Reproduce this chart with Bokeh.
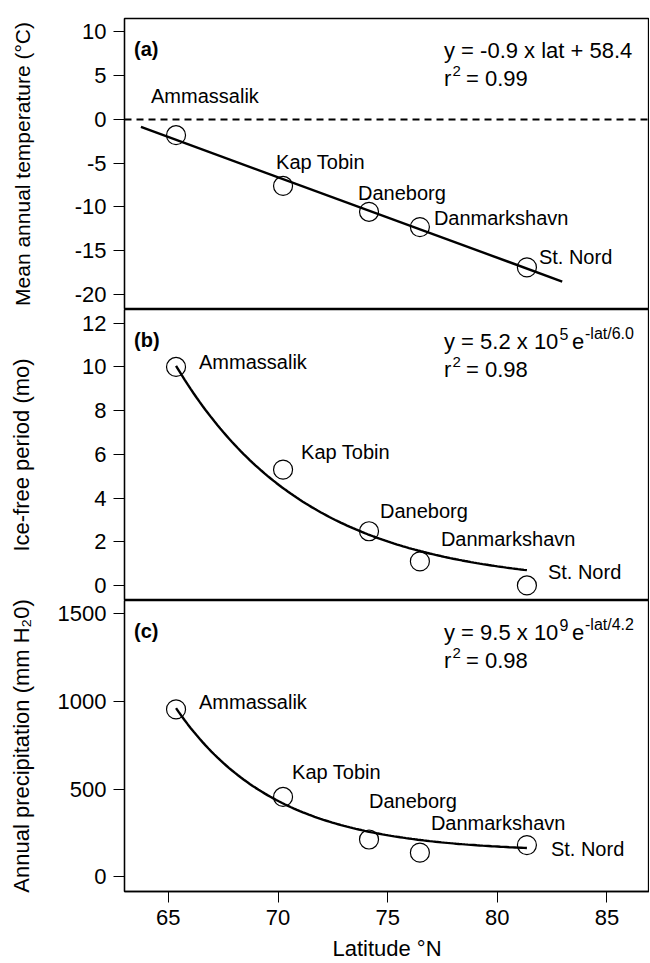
import numpy as np
from bokeh.plotting import figure
from bokeh.models import ColumnDataSource, Label, LabelSet, Span, FixedTicker
from bokeh.core.properties import value
from bokeh.layouts import column
from bokeh.embed import file_html
from bokeh.resources import INLINE

# ---------------- data ----------------
stations = ["Ammassalik", "Kap Tobin", "Daneborg", "Danmarkshavn", "St. Nord"]
latitude = [65.35, 70.23, 74.15, 76.47, 81.35]
mean_temp = [-1.8, -7.6, -10.55, -12.3, -16.9]
ice_free = [10.0, 5.3, 2.48, 1.1, 0.0]
precip = [955, 455, 212, 137, 180]

x_ticks = [65, 70, 75, 80, 85]
temp_ticks = [-20, -15, -10, -5, 0, 5, 10]
ice_ticks = [0, 2, 4, 6, 8, 10, 12]
precip_ticks = [0, 500, 1000, 1500]

# fitted curves (parameters)
temp_fit_span = [63.75, 82.96]
ice_fit_amp = 5.4e5
ice_fit_scale = 6.0
precip_fit_offset = 140.0
precip_fit_amp = 822.0
precip_fit_scale = 4.5

# label offsets (pixels: dx to left edge of text, dy to text middle, screen-down)
lab_dx_a = [-25, -7, -11, 14, 12]
lab_dy_a = [-39, -24, -19, -9, -10]
lab_dx_b = [23, 18, 11, 21, 21]
lab_dy_b = [-5, -18, -20, -22, -13]
lab_dx_c = [23, 9, 0, 11, 24]
lab_dy_c = [-7, -25, -38, -30, 4]

FONT = "Liberation Sans"
X0, X1 = 63.0, 86.94
EQ = 22      # equation font size
SUP = 16     # superscript size
SUP2 = 15    # r^2 superscript size


def make_panel(y0, y1, yticks, top, bottom, show_x, ylabel, ylabel_standoff, ylabel_size):
    p = figure(frame_width=525, frame_height=291, x_range=(X0, X1), y_range=(y0, y1),
               output_backend="svg", toolbar_location=None,
               x_axis_location="below" if show_x else None,
               min_border_left=124, min_border_right=0,
               min_border_top=top, min_border_bottom=bottom)
    p.grid.visible = False
    p.outline_line_color = "black"
    p.outline_line_width = 1.3
    p.outline_line_alpha = 1.0
    p.background_fill_color = "white"
    p.border_fill_color = "white"
    ya = p.yaxis[0]
    ya.ticker = FixedTicker(ticks=yticks)
    ya.major_label_overrides = {t: str(t) for t in yticks}
    ya.major_tick_out = 11
    ya.major_tick_in = 0
    ya.minor_tick_out = 0
    ya.minor_tick_in = 0
    ya.major_tick_line_color = "black"
    ya.axis_line_color = "black"
    ya.axis_line_width = 1.3
    ya.major_label_text_font = FONT
    ya.major_label_text_font_size = "22px"
    ya.major_label_text_color = "black"
    ya.major_label_standoff = 7
    ya.axis_label = ylabel
    ya.axis_label_text_font = FONT
    ya.axis_label_text_font_size = ylabel_size
    ya.axis_label_text_font_style = "normal"
    ya.axis_label_text_color = "black"
    ya.axis_label_standoff = ylabel_standoff
    if show_x:
        xa = p.xaxis[0]
        xa.ticker = FixedTicker(ticks=x_ticks)
        xa.major_tick_out = 11
        xa.major_tick_in = 0
        xa.minor_tick_out = 0
        xa.minor_tick_in = 0
        xa.major_tick_line_color = "black"
        xa.axis_line_color = "black"
        xa.axis_line_width = 1.3
        xa.major_label_text_font = FONT
        xa.major_label_text_font_size = "22px"
        xa.major_label_text_color = "black"
        xa.major_label_standoff = 7
        xa.axis_label = "Latitude °N"
        xa.axis_label_text_font = FONT
        xa.axis_label_text_font_size = "22px"
        xa.axis_label_text_font_style = "normal"
        xa.axis_label_text_color = "black"
        xa.axis_label_standoff = 8
    return p


def add_text(p, dx, dy, text, size, bold=False, y_top=None):
    p.add_layout(Label(x=X0, y=y_top, x_offset=dx, y_offset=-dy, text=text,
                       text_font=FONT, text_font_size=f"{size}px",
                       text_font_style="bold" if bold else "normal",
                       text_color="black", text_align="left",
                       text_baseline="alphabetic"))


def add_points(p, vals, dxs, dys):
    src = ColumnDataSource(dict(x=latitude, y=vals, name=stations,
                                dx=dxs, dy=[-d for d in dys]))
    p.scatter("x", "y", source=src, marker="circle", size=19, fill_color=None,
              line_color="black", line_width=1.2)
    p.add_layout(LabelSet(x="x", y="y", text="name", source=src, x_offset="dx",
                          y_offset="dy", text_font=value(FONT),
                          text_font_size=value("20px"),
                          text_color="black", text_align="left",
                          text_baseline="middle"))


def add_r2(p, y_top, txt):
    add_text(p, 319.5, 60, "r", EQ, y_top=y_top)
    add_text(p, 328, 52, "2", SUP2, y_top=y_top)
    add_text(p, 341.5, 60, txt, EQ, y_top=y_top)


def add_exp_eq(p, y_top, main, power, expo):
    add_text(p, 319.5, 32, main, EQ, y_top=y_top)
    add_text(p, 435, 24, power, SUP, y_top=y_top)
    add_text(p, 447.5, 32, "e", EQ, y_top=y_top)
    add_text(p, 460.5, 24, expo, SUP, y_top=y_top)


# ---------------- panel (a) ----------------
A0, A1 = -21.71, 11.53
pa = make_panel(A0, A1, temp_ticks, 18, 0, False, "Mean annual temperature (°C)", 38, "21px")
pa.add_layout(Span(location=0, dimension="width", line_color="black",
                   line_width=2, line_dash="7 5"))
slope, intercept = np.polyfit(latitude, mean_temp, 1)
xf = np.array(temp_fit_span)
pa.line(xf, slope * xf + intercept, line_color="black", line_width=2.4)
add_points(pa, mean_temp, lab_dx_a, lab_dy_a)
add_text(pa, 9.5, 30, "(a)", 20, bold=True, y_top=A1)
add_text(pa, 319.5, 32, "y = -0.9 x lat + 58.4", EQ, y_top=A1)
add_r2(pa, A1, "= 0.99")

# ---------------- panel (b) ----------------
B0, B1 = -0.69, 12.63
pb = make_panel(B0, B1, ice_ticks, 0, 0, False, "Ice-free period (mo)", 45, "22px")
xb = np.linspace(latitude[0], latitude[-1], 120)
pb.line(xb, ice_fit_amp * np.exp(-xb / ice_fit_scale), line_color="black", line_width=2.4)
add_points(pb, ice_free, lab_dx_b, lab_dy_b)
add_text(pb, 9.5, 30, "(b)", 20, bold=True, y_top=B1)
add_exp_eq(pb, B1, "y = 5.2 x 10", "5", "-lat/6.0")
add_r2(pb, B1, "= 0.98")

# ---------------- panel (c) ----------------
C0, C1 = -85.0, 1577.0
pc = make_panel(C0, C1, precip_ticks, 0, 72, True, "Annual precipitation (mm H₂0)", 21, "22px")
xc = np.linspace(latitude[0], latitude[-1], 120)
pc.line(xc, precip_fit_offset + precip_fit_amp * np.exp(-(xc - latitude[0]) / precip_fit_scale),
        line_color="black", line_width=2.4)
add_points(pc, precip, lab_dx_c, lab_dy_c)
add_text(pc, 9.5, 30, "(c)", 20, bold=True, y_top=C1)
add_exp_eq(pc, C1, "y = 9.5 x 10", "9", "-lat/4.2")
add_r2(pc, C1, "= 0.98")

layout = column(pa, pb, pc, spacing=0)
open("out.html", "w").write(file_html(layout, INLINE))
